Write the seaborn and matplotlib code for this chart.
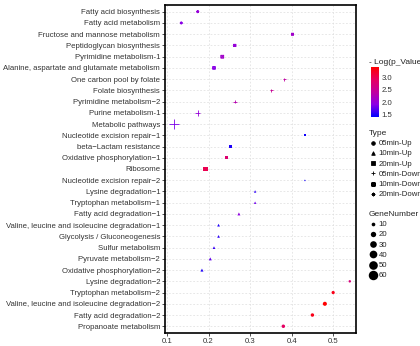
import numpy as np
import pandas as pd
import seaborn as sns
import matplotlib.pyplot as plt
from matplotlib.colors import LinearSegmentedColormap, Normalize
from matplotlib.cm import ScalarMappable
from matplotlib.lines import Line2D

pathways = [
    "Fatty acid biosynthesis", "Fatty acid metabolism", "Fructose and mannose metabolism",
    "Peptidoglycan biosynthesis", "Pyrimidine metabolism-1",
    "Alanine, aspartate and glutamate metabolism", "One carbon pool by folate",
    "Folate biosynthesis", "Pyrimidine metabolism\u22122", "Purine metabolism-1",
    "Metabolic pathways", "Nucleotide excision repair\u22121", "beta\u2212Lactam resistance",
    "Oxidative phosphorylation\u22121", "Ribosome", "Nucleotide excision repair\u22122",
    "Lysine degradation\u22121", "Tryptophan metabolism\u22121", "Fatty acid degradation\u22121",
    "Valine, leucine and isoleucine degradation\u22121", "Glycolysis / Gluconeogenesis",
    "Sulfur metabolism", "Pyruvate metabolism\u22122", "Oxidative phosphorylation\u22122",
    "Lysine degradation\u22122", "Tryptophan metabolism\u22122",
    "Valine, leucine and isoleucine degradation\u22122", "Fatty acid degradation\u22122",
    "Propanoate metabolism",
]
rich_factor = [0.174, 0.134, 0.402, 0.263, 0.233, 0.213, 0.382, 0.351, 0.263, 0.174,
               0.117, 0.432, 0.253, 0.243, 0.193, 0.432, 0.312, 0.312, 0.273, 0.224,
               0.224, 0.213, 0.204, 0.184, 0.54, 0.50, 0.48, 0.45, 0.38]
log_p = [2.0, 1.9, 2.1, 2.0, 2.1, 1.9, 2.4, 2.5, 2.3, 2.0,
         1.85, 1.45, 1.5, 2.8, 3.0, 1.45, 1.55, 1.8, 1.95, 1.5,
         1.55, 1.6, 1.75, 1.5, 2.7, 3.3, 3.43, 3.3, 2.9]
gene_number = [4, 4, 5, 6, 8, 7, 6, 8, 10, 20,
               58, 3, 5, 8, 14, 3, 5, 5, 7, 6,
               6, 6, 7, 7, 5, 8, 12, 9, 9]
types = (["20min-Down"] * 2 + ["10min-Down"] * 4 + ["05min-Down"] * 5
         + ["20min-Up"] * 4 + ["10min-Up"] * 9 + ["05min-Up"] * 5)

type_order = ["05min-Up", "10min-Up", "20min-Up", "05min-Down", "10min-Down", "20min-Down"]
type_markers = {"05min-Up": "o", "10min-Up": "^", "20min-Up": "s",
                "05min-Down": "+", "10min-Down": r"$\boxtimes$", "20min-Down": (8, 2, 0)}
size_breaks = [10, 20, 30, 40, 50, 60]

df = pd.DataFrame({"Pathway": pathways, "RichFactor": rich_factor, "LogP": log_p,
                   "GeneNumber": gene_number, "Type": types})
df["row"] = np.arange(len(df))

sns.set_theme(style="white")
plt.rcParams["font.family"] = ["Liberation Sans", "DejaVu Sans"]

cmap = LinearSegmentedColormap.from_list(
    "bluered", ["#0000FF", "#8A00E6", "#C1009E", "#E60060", "#FF0000"])
p_range = (1.39, 3.43)
s_range = (1.5, 48)
g_norm = (3, 62)

fig = plt.figure(figsize=(4.2, 3.46), dpi=100)
ax = fig.add_axes([165 / 420, 13 / 346, 191 / 420, 328 / 346])

for t in type_order:
    sub = df[df["Type"] == t]
    m = type_markers[t]
    if t in ("05min-Down", "20min-Down"):
        kw = dict(linewidth=0.6)
    elif t == "10min-Down":
        kw = dict(linewidth=0.3, edgecolor="face")
    else:
        kw = dict(linewidth=0, edgecolor="none")
    sns.scatterplot(data=sub, x="RichFactor", y="row", hue="LogP", palette=cmap,
                    hue_norm=p_range, size="GeneNumber", sizes=s_range, size_norm=g_norm,
                    marker=m, legend=False, ax=ax, zorder=3, **kw)

ax.set_yticks(df["row"], df["Pathway"])
ax.set_ylim(28.6, -0.6)
ax.set_xlim(0.095, 0.555)
ax.set_xticks([0.1, 0.2, 0.3, 0.4, 0.5], ["0.1", "0.2", "0.3", "0.4", "0.5"])
ax.set_xlabel("")
ax.set_ylabel("")
ax.grid(True, ls=(0, (2.5, 2.5)), color="#DDDDDD", lw=0.5)
ax.set_axisbelow(True)
for sp in ax.spines.values():
    sp.set_linewidth(1.2)
    sp.set_color("black")
ax.tick_params(left=True, bottom=True, length=2, width=0.6, color="#333333",
               labelcolor="#333333", labelsize=5.6, pad=1.5)

# colour bar
cax = fig.add_axes([371 / 420, 1 - 117 / 346, 8 / 420, 50 / 346])
cb = fig.colorbar(ScalarMappable(Normalize(*p_range), cmap), cax=cax)
cb.outline.set_visible(False)
cb.set_ticks([1.5, 2.0, 2.5, 3.0], labels=["1.5", "2.0", "2.5", "3.0"])
cax.tick_params(length=2, width=0.5, color="white", direction="in",
                labelsize=5.6, labelcolor="#333333", pad=2)
fig.text(369 / 420, 1 - 62 / 346, "- Log(p_Value)", fontsize=6, va="center", color="#222222")

leg_kw = dict(loc="upper left", frameon=False, fontsize=5.6, title_fontsize=6,
              handlelength=1.05, handletextpad=0.2, labelspacing=0.36,
              borderpad=0, borderaxespad=0, alignment="left")

# shape legend
shape_handles = [Line2D([], [], ls="", marker=type_markers[t], color="black",
                        markersize=2.6, mew=0.6) for t in type_order]
fig.legend(shape_handles, type_order, title="Type",
           bbox_to_anchor=(369 / 420, 1 - 130 / 346), **leg_kw)

# size legend
def gene_ms(g):
    s = s_range[0] + (g - g_norm[0]) / (g_norm[1] - g_norm[0]) * (s_range[1] - s_range[0])
    return np.sqrt(s)

size_handles = [Line2D([], [], ls="", marker="o", color="black", mew=0,
                       markersize=gene_ms(g)) for g in size_breaks]
fig.legend(size_handles, [str(g) for g in size_breaks], title="GeneNumber",
           bbox_to_anchor=(369 / 420, 1 - 211 / 346), **leg_kw)

fig.savefig("out.png", dpi=100)
